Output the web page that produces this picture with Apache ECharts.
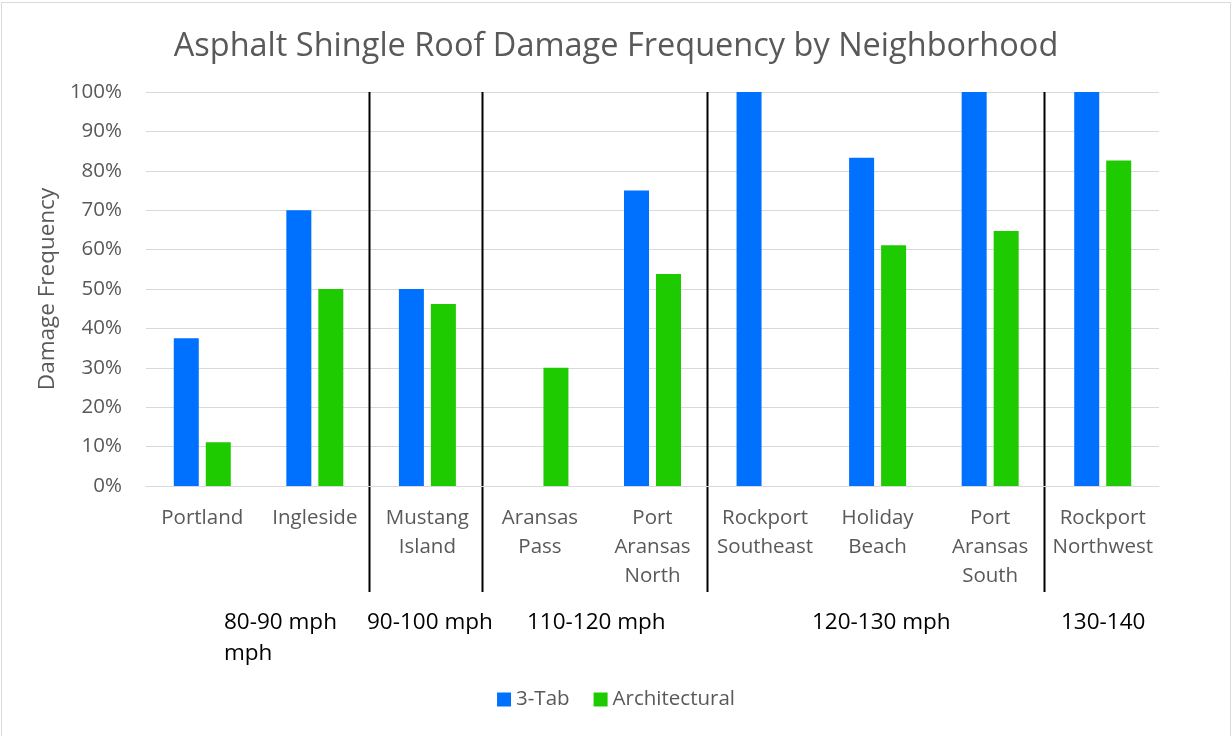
<!DOCTYPE html>
<html>
<head>
<meta charset="utf-8">
<script src="https://cdn.jsdelivr.net/npm/echarts@6/dist/echarts.min.js"></script>
<style>
  html, body { margin: 0; padding: 0; background: #fff; }
  #chart { width: 1232px; height: 736px; }
</style>
</head>
<body>
<div id="chart"></div>
<script>
// Neighborhoods along the x axis
const neighborhoods = [
  'Portland', 'Ingleside', 'Mustang\nIsland', 'Aransas\nPass', 'Port\nAransas\nNorth',
  'Rockport\nSoutheast', 'Holiday\nBeach', 'Port\nAransas\nSouth', 'Rockport\nNorthwest'
];
// Damage frequency (%) per shingle type; null = no sample
const threeTab      = [37.5, 70, 50, null, 75, 100, 83.3, 100, 100];
const architectural = [11.1, 50, 46.2, 30, 53.8, null, 61.1, 64.7, 82.6];
// Wind-speed zones: divider positions (category index where a zone starts) and zone labels
const zoneBreaks = [2, 3, 5, 8];
const zoneLabels = ['80-90 mph\nmph', '90-100 mph', '110-120 mph', '120-130 mph', '130-140'];
const yTicks = [0, 10, 20, 30, 40, 50, 60, 70, 80, 90, 100];

const FONT = '"Open Sans", "Noto Sans", sans-serif';
const GREY = '#595959';

const chart = echarts.init(document.getElementById('chart'), null, { renderer: 'canvas' });

const option = {
  backgroundColor: '#fff',
  animation: false,
  title: {
    text: 'Asphalt Shingle Roof Damage Frequency by Neighborhood',
    left: 'center',
    top: 25,
    textStyle: { fontFamily: FONT, fontSize: 32.5, fontWeight: 'normal', color: GREY }
  },
  legend: {
    bottom: 21,
    left: 'center',
    icon: 'rect',
    itemWidth: 14,
    itemHeight: 14,
    itemGap: 24,
    textStyle: { fontFamily: FONT, fontSize: 20.5, color: GREY }
  },
  grid: { left: 146, right: 73, top: 92, bottom: 250, containLabel: false },
  xAxis: {
    type: 'category',
    data: neighborhoods,
    axisTick: { show: false },
    axisLine: { lineStyle: { color: '#d9d9d9', width: 1 } },
    axisLabel: {
      interval: 0,
      margin: 18,
      fontFamily: FONT,
      fontSize: 20.5,
      lineHeight: 29,
      color: GREY,
      verticalAlign: 'top'
    }
  },
  yAxis: {
    type: 'value',
    min: yTicks[0],
    max: yTicks[yTicks.length - 1],
    interval: yTicks[1] - yTicks[0],
    name: 'Damage Frequency',
    nameLocation: 'middle',
    nameRotate: 90,
    nameGap: 86,
    nameTextStyle: { fontFamily: FONT, fontSize: 22.5, color: GREY },
    axisLine: { show: false },
    axisTick: { show: false },
    splitLine: { lineStyle: { color: '#d9d9d9', width: 1 } },
    axisLabel: {
      margin: 24,
      fontFamily: FONT,
      fontSize: 20.5,
      color: GREY,
      formatter: '{value}%'
    }
  },
  series: [
    {
      name: '3-Tab',
      type: 'bar',
      data: threeTab,
      barWidth: 25,
      barGap: '28%',
      itemStyle: { color: '#0070FF' }
    },
    {
      name: 'Architectural',
      type: 'bar',
      data: architectural,
      barWidth: 25,
      itemStyle: { color: '#1ECB00' }
    }
  ]
};

chart.setOption(option);

// Zone dividers sit halfway between neighbouring category centres
function dividerX(idx) {
  const a = chart.convertToPixel({ xAxisIndex: 0 }, idx - 1);
  const b = chart.convertToPixel({ xAxisIndex: 0 }, idx);
  return (a + b) / 2;
}
const yTop = chart.convertToPixel({ yAxisIndex: 0 }, yTicks[yTicks.length - 1]);

const graphics = [
  {
    type: 'rect',
    silent: true,
    shape: { x: 1.5, y: 2.5, width: 1229, height: 745 },
    style: { fill: null, stroke: '#d9d9d9', lineWidth: 1 }
  }
];
zoneBreaks.forEach(function (idx) {
  const x = Math.round(dividerX(idx)) - 2 + 0.5;
  graphics.push({
    type: 'line',
    silent: true,
    shape: { x1: x, y1: yTop, x2: x, y2: 592 },
    style: { stroke: '#000', lineWidth: 2 }
  });
});
// Zone captions under the neighbourhood labels
const zoneLeft = [224, 367, 527, 812, 1061];
zoneLabels.forEach(function (txt, i) {
  graphics.push({
    type: 'text',
    silent: true,
    x: zoneLeft[i],
    y: 607,
    style: {
      text: txt,
      fontFamily: FONT,
      fontSize: 22.5,
      lineHeight: 31,
      fill: '#000',
      align: 'left',
      verticalAlign: 'top'
    }
  });
});

chart.setOption({ graphic: graphics });
</script>
</body>
</html>
